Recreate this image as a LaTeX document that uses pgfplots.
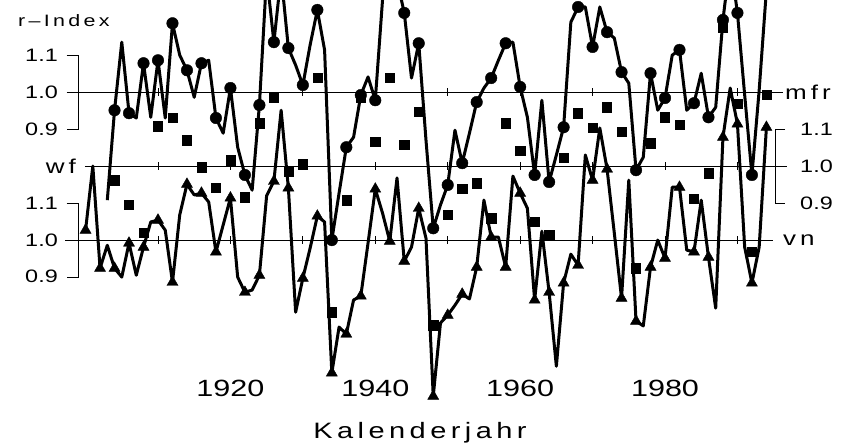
\documentclass[border=0pt]{standalone}
\usepackage{fontspec}
\usepackage{pgfplots}
\usepackage{pgfplotstable}
\pgfplotsset{compat=1.18}
\setmainfont{Liberation Sans}
\newfontfamily\numf[FakeStretch=1.3]{Liberation Sans}
\newfontfamily\txtf[FakeStretch=1.3,LetterSpace=20]{Liberation Sans}

\pgfplotstableread{
year v
1903 0.708
1904 0.951
1905 1.135
1906 0.943
1907 0.930
1908 1.078
1909 0.932
1910 1.086
1911 0.930
1912 1.186
1913 1.100
1914 1.059
1915 0.986
1916 1.078
1917 1.086
1918 0.930
1919 0.889
1920 1.011
1921 0.851
1922 0.776
1923 0.735
1924 0.965
1925 1.316
1926 1.135
1927 1.316
1928 1.119
1929 1.073
1930 1.019
1931 1.127
1932 1.222
1933 1.114
1934 0.600
1935 0.727
1936 0.851
1937 0.878
1938 0.992
1939 1.041
1940 0.978
1941 1.249
1942 1.357
1943 1.303
1944 1.214
1945 1.038
1946 1.132
1947 0.870
1948 0.632
1949 0.695
1950 0.749
1951 0.897
1952 0.808
1953 0.889
1954 0.973
1955 1.011
1956 1.038
1957 1.086
1958 1.132
1959 1.135
1960 1.014
1961 0.932
1962 0.776
1963 0.978
1964 0.757
1965 0.830
1966 0.905
1967 1.189
1968 1.230
1969 1.230
1970 1.122
1971 1.230
1972 1.162
1973 1.146
1974 1.054
1975 1.024
1976 0.789
1977 0.824
1978 1.051
1979 0.951
1980 0.984
1981 1.100
1982 1.114
1983 0.951
1984 0.970
1985 1.051
1986 0.932
1987 0.959
1988 1.195
1989 1.357
1990 1.214
1991 0.992
1992 0.776
1993 1.005
1994 1.276
}\mfr

\pgfplotstableread{
year v
1904 0.962
1906 0.895
1908 0.819
1910 1.108
1912 1.130
1914 1.070
1916 0.997
1918 0.941
1920 1.016
1922 0.916
1924 1.116
1926 1.184
1928 0.984
1930 1.005
1932 1.238
1934 0.605
1936 0.908
1938 1.186
1940 1.065
1942 1.238
1944 1.057
1946 1.146
1948 0.570
1950 0.868
1952 0.938
1954 0.954
1956 0.859
1958 1.116
1960 1.041
1962 0.849
1964 0.814
1966 1.022
1968 1.143
1970 1.103
1972 1.159
1974 1.092
1976 0.724
1978 1.062
1980 1.132
1982 1.111
1984 0.911
1986 0.981
1988 1.373
1990 1.168
1992 0.768
1994 1.192
}\wf

\pgfplotstableread{
year v
1900 1.027
1901 1.200
1902 0.924
1903 0.986
1904 0.924
1905 0.900
1906 0.992
1907 0.905
1908 0.981
1909 1.049
1910 1.054
1911 1.027
1912 0.886
1913 1.068
1914 1.151
1915 1.122
1916 1.127
1917 1.103
1918 0.968
1919 1.041
1920 1.114
1921 0.900
1922 0.859
1923 0.865
1924 0.905
1925 1.120
1926 1.159
1927 1.351
1928 1.141
1929 0.805
1930 0.897
1931 0.978
1932 1.065
1933 1.049
1934 0.641
1935 0.765
1936 0.746
1937 0.838
1938 0.849
1939 0.992
1940 1.138
1941 1.073
1942 0.997
1943 1.168
1944 0.943
1945 0.981
1946 1.086
1947 1.005
1948 0.578
1949 0.776
1950 0.797
1951 0.824
1952 0.854
1953 0.841
1954 0.927
1955 1.108
1956 1.008
1957 1.008
1958 0.927
1959 1.173
1960 1.127
1961 1.086
1962 0.838
1963 1.024
1964 0.859
1965 0.659
1966 0.884
1967 0.962
1968 0.932
1969 1.230
1970 1.162
1971 1.303
1972 1.192
1973 1.019
1974 0.843
1975 1.162
1976 0.781
1977 0.768
1978 0.927
1979 1.000
1980 0.951
1981 1.143
1982 1.143
1983 0.973
1984 0.968
1985 1.108
1986 0.954
1987 0.816
1988 1.278
1989 1.411
1990 1.314
1991 0.981
1992 0.884
1993 0.981
1994 1.305
}\vn

\begin{document}
\begin{tikzpicture}
\begin{axis}[
  scale only axis, width=844pt, height=443pt,
  xmin=1888.186, xmax=2004.713, ymin=-0.94865, ymax=0.24865,
  axis line style={draw=none},
  major tick length=0pt,
  xtick={1920,1940,1960,1980},
  xticklabels={1920,1940,1960,1980},
  ytick=\empty,
  xticklabel style={font=\fontsize{23.5}{24}\selectfont\numf, anchor=center, yshift=55pt},
  xlabel={Kalenderjahr},
  xlabel style={font=\fontsize{22.3}{24}\selectfont\txtf, at={(axis description cs:0.4976,0)}, anchor=base, yshift=5pt},
  clip=true,
  unbounded coords=discard,
]
% reference lines
\addplot[black, line width=1pt] coordinates {(1897.4,0) (1996.3,0)};
\addplot[black, line width=1pt] coordinates {(1899.9,-0.2) (1996.8,-0.2)};
\addplot[black, line width=1pt] coordinates {(1897.2,-0.4) (1994.9,-0.4)};
% brackets
\addplot[black, line width=0.9pt] coordinates {(1897.4,0.1) (1898.95,0.1) (1898.95,-0.1) (1897.4,-0.1)};
\addplot[black, line width=0.9pt] coordinates {(1897.4,-0.3) (1898.95,-0.3) (1898.95,-0.5) (1897.4,-0.5)};
\addplot[black, line width=0.9pt] coordinates {(1996.6,-0.1) (1995.2,-0.1) (1995.2,-0.3) (1996.6,-0.3)};
% decade ticks
\addplot[only marks, mark=|, mark size=4pt, mark options={line width=0.9pt}] coordinates {
(1910,0)(1920,0)(1930,0)(1940,0)(1950,0)(1960,0)(1970,0)(1980,0)(1990,0)
(1910,-0.2)(1920,-0.2)(1930,-0.2)(1940,-0.2)(1950,-0.2)(1960,-0.2)(1970,-0.2)(1980,-0.2)(1990,-0.2)
(1910,-0.4)(1920,-0.4)(1930,-0.4)(1940,-0.4)(1950,-0.4)(1960,-0.4)(1970,-0.4)(1980,-0.4)(1990,-0.4)};
% mfr
\addplot[black, line width=3pt, line join=round, no marks]
  table[x=year, y expr=\thisrow{v}-1] {\mfr};
\addplot[black, only marks, mark=*, mark size=5.8pt]
  table[x=year, y expr={abs(\thisrow{year}/2-round(\thisrow{year}/2))<0.1 ? \thisrow{v}-1 : nan}] {\mfr};
% wf
\addplot[black, only marks, mark=square*, mark size=4.6pt]
  table[x=year, y expr=\thisrow{v}-1.2] {\wf};
% vn
\addplot[black, line width=3pt, line join=round, no marks]
  table[x=year, y expr=\thisrow{v}-1.4] {\vn};
\addplot[black, only marks, mark=triangle*, mark size=6.4pt]
  table[x=year, y expr={abs(\thisrow{year}/2-round(\thisrow{year}/2))<0.1 ? \thisrow{v}-1.4 : nan}] {\vn};
% labels
\node[anchor=west, inner sep=0pt, font=\fontsize{16.5}{18}\selectfont\txtf] at (rel axis cs:0.0213,0.9526) {r\textendash Index};
\node[anchor=east, inner sep=0pt, font=\fontsize{18}{20}\selectfont\numf] at (rel axis cs:0.0687,0.8758) {1.1};
\node[anchor=east, inner sep=0pt, font=\fontsize{18}{20}\selectfont\numf] at (rel axis cs:0.0687,0.7923) {1.0};
\node[anchor=east, inner sep=0pt, font=\fontsize{18}{20}\selectfont\numf] at (rel axis cs:0.0687,0.7088) {0.9};
\node[anchor=east, inner sep=0pt, font=\fontsize{20}{22}\selectfont\txtf] at (rel axis cs:0.0900,0.6250) {wf};
\node[anchor=east, inner sep=0pt, font=\fontsize{18}{20}\selectfont\numf] at (rel axis cs:0.0687,0.5418) {1.1};
\node[anchor=east, inner sep=0pt, font=\fontsize{18}{20}\selectfont\numf] at (rel axis cs:0.0687,0.4582) {1.0};
\node[anchor=east, inner sep=0pt, font=\fontsize{18}{20}\selectfont\numf] at (rel axis cs:0.0687,0.3770) {0.9};
\node[anchor=west, inner sep=0pt, font=\fontsize{20}{22}\selectfont\txtf] at (rel axis cs:0.9301,0.7923) {mfr};
\node[anchor=west, inner sep=0pt, font=\fontsize{18}{20}\selectfont\numf] at (rel axis cs:0.9479,0.7088) {1.1};
\node[anchor=west, inner sep=0pt, font=\fontsize{18}{20}\selectfont\numf] at (rel axis cs:0.9479,0.6253) {1.0};
\node[anchor=west, inner sep=0pt, font=\fontsize{18}{20}\selectfont\numf] at (rel axis cs:0.9479,0.5418) {0.9};
\node[anchor=west, inner sep=0pt, font=\fontsize{20}{22}\selectfont\txtf] at (rel axis cs:0.9277,0.4582) {vn};
\end{axis}
\end{tikzpicture}
\end{document}
